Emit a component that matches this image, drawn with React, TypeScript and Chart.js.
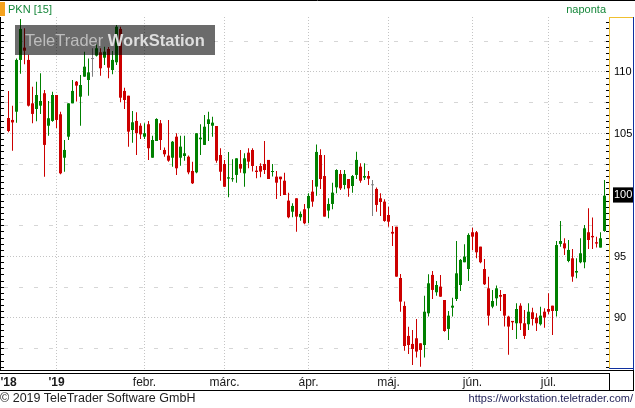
import React, { useEffect, useRef } from 'react';
import { Chart, registerables } from 'chart.js';

Chart.register(...registerables);
Chart.defaults.font.family = '"Liberation Sans", Arial, sans-serif';

// PKN daily candles, Dec 2018 – Jul 2019 (one entry per trading day)
const opens = [
  106.26, 106.1, 106.77, 110.98, 111.98, 110.98, 107.45, 106.99, 107.26, 108.27,
  105.63, 106.02, 108.13, 106.56, 103.03, 104.74, 107.45, 109.21, 107.99, 109.62,
  109.35, 111.05, 111.33, 111.6, 111.16, 111.87, 110.16, 110.79, 113.5, 108.46,
  108.07, 105.28, 106.02, 105.63, 104.74, 105.75, 103.03, 104.39, 105.83, 103.66,
  103.2, 103.03, 104.74, 103.03, 103.17, 103.11, 101.95, 101.84, 104.53, 104.07,
  105.77, 105.63, 105.61, 103.25, 102.52, 101.33, 101.28, 101.63, 102.52, 101.76,
  103.44, 103.66, 101.98, 102.36, 102.52, 102.85, 101.87, 101.49, 101.49, 101.16,
  99.54, 98.64, 99.73, 98.19, 98.84, 98.92, 100.27, 100.68, 103.25, 101.54,
  98.73, 99.27, 100.62, 101.71, 100.81, 101.3, 100.73, 101.63, 102.3, 101.41,
  101.54, 100.79, 100.49, 99.73, 99.46, 98.37, 97.0, 97.42, 93.25, 90.98,
  88.54, 87.89, 88.35, 87.94, 87.8, 90.38, 93.5, 92.09, 92.55, 91.46,
  89.11, 90.84, 91.54, 92.68, 94.53, 93.98, 96.97, 96.97, 95.8, 93.98,
  92.41, 90.92, 91.6, 91.87, 91.95, 90.11, 89.76, 89.57, 91.0, 89.57,
  89.49, 90.46, 90.03, 89.49, 90.51, 90.73, 91.0, 90.57, 96.02, 96.07,
  94.63, 94.85, 93.69, 94.53, 94.53, 96.97, 96.67, 96.16, 95.72, 97.07,
];
const highs = [
  108.46, 107.26, 111.1, 114.3, 113.55, 111.4, 108.8, 109.2, 109.9, 108.54,
  107.64, 108.4, 108.13, 106.77, 104.47, 107.45, 109.35, 109.27, 109.76, 111.65,
  111.1, 111.93, 112.25, 111.93, 112.06, 112.03, 111.71, 113.82, 113.68, 108.72,
  108.07, 106.83, 106.72, 105.83, 105.83, 106.02, 104.82, 106.24, 106.1, 103.85,
  106.1, 104.39, 105.02, 104.82, 104.82, 103.2, 102.71, 105.02, 105.75, 106.5,
  106.77, 106.37, 105.61, 103.8, 102.85, 103.5, 102.9, 102.98, 103.66, 103.39,
  103.8, 103.8, 102.36, 102.58, 104.39, 102.85, 102.52, 101.95, 101.49, 101.81,
  100.19, 99.33, 99.73, 98.65, 99.27, 100.14, 101.22, 104.1, 103.72, 103.25,
  99.73, 101.0, 102.09, 102.03, 102.03, 101.3, 101.63, 103.52, 102.58, 102.58,
  101.95, 101.22, 100.6, 100.14, 99.65, 99.05, 97.48, 97.42, 93.58, 91.33,
  89.29, 89.02, 89.92, 87.94, 91.81, 93.55, 93.82, 93.0, 93.5, 91.46,
  90.57, 91.65, 96.26, 94.8, 95.99, 96.88, 97.34, 97.07, 95.8, 94.8,
  93.36, 92.28, 92.63, 92.28, 91.95, 90.19, 89.76, 91.19, 91.19, 90.65,
  91.19, 90.84, 90.38, 90.92, 90.79, 92.0, 91.0, 96.26, 97.89, 96.48,
  96.34, 95.61, 94.85, 96.48, 97.56, 98.92, 98.16, 96.61, 96.97, 101.22,
];
const lows = [
  105.1, 103.6, 105.88, 109.86, 110.63, 107.2, 105.83, 106.0, 106.59, 101.49,
  104.82, 105.96, 105.45, 101.68, 101.89, 104.47, 107.45, 107.59, 105.63, 109.62,
  108.07, 109.62, 111.25, 109.7, 110.57, 109.49, 109.81, 110.57, 107.54, 106.99,
  103.93, 104.25, 103.25, 104.55, 104.55, 102.85, 103.03, 104.39, 103.66, 103.11,
  102.71, 102.3, 101.63, 102.38, 102.79, 101.68, 100.89, 101.76, 103.25, 104.07,
  104.39, 104.74, 102.63, 101.16, 100.67, 99.81, 101.08, 101.0, 101.8, 100.67,
  102.17, 101.9, 101.36, 101.44, 101.71, 101.3, 101.5, 99.67, 99.92, 100.0,
  98.11, 98.19, 97.02, 97.91, 97.62, 97.7, 99.05, 99.94, 100.49, 98.24,
  98.11, 98.84, 100.14, 100.41, 100.46, 99.86, 100.19, 101.3, 101.0, 101.22,
  100.81, 98.29, 98.64, 98.29, 97.83, 97.42, 95.85, 93.36, 90.51, 87.34,
  87.07, 86.18, 86.78, 86.04, 86.78, 90.11, 91.54, 91.81, 91.73, 88.89,
  88.21, 90.11, 91.38, 92.2, 94.53, 93.0, 95.5, 94.85, 94.45, 92.68,
  89.38, 90.79, 91.0, 90.57, 89.3, 87.0, 89.02, 88.29, 89.02, 88.29,
  89.02, 89.38, 88.94, 89.38, 89.21, 90.3, 88.62, 90.11, 95.8, 95.12,
  94.53, 92.95, 93.22, 94.45, 94.04, 95.61, 95.61, 95.72, 95.72, 97.02,
];
const closes = [
  105.2, 105.9, 110.98, 113.5, 111.73, 107.26, 106.59, 108.13, 107.64, 104.07,
  106.24, 108.13, 106.1, 101.76, 103.66, 107.45, 108.46, 108.89, 108.94, 110.43,
  109.97, 111.05, 111.93, 110.3, 111.65, 110.35, 110.98, 113.68, 107.91, 107.72,
  105.15, 105.91, 105.02, 104.93, 105.02, 103.8, 104.47, 106.18, 104.47, 103.31,
  102.79, 104.33, 102.17, 103.93, 103.39, 101.84, 100.95, 105.02, 104.66, 105.55,
  106.15, 105.88, 102.79, 101.89, 100.67, 101.44, 101.36, 102.98, 102.14, 102.98,
  102.71, 102.36, 101.87, 101.9, 102.03, 101.3, 101.95, 101.0, 101.28, 100.0,
  98.19, 99.11, 98.24, 98.46, 97.7, 99.92, 99.46, 103.5, 101.3, 98.24,
  99.27, 100.19, 102.03, 100.54, 101.71, 100.54, 101.54, 102.85, 101.16, 101.54,
  101.33, 100.79, 99.19, 99.43, 97.89, 97.83, 96.86, 93.36, 91.33, 87.72,
  87.8, 87.48, 87.27, 87.4, 90.51, 92.82, 92.28, 92.68, 91.73, 88.94,
  90.19, 91.0, 93.63, 94.72, 94.99, 96.75, 96.61, 95.34, 94.53, 92.74,
  90.19, 91.38, 92.41, 91.73, 90.19, 89.3, 89.65, 90.73, 89.57, 88.54,
  90.51, 89.92, 89.57, 90.19, 90.03, 90.51, 90.57, 95.93, 96.26, 95.66,
  95.53, 93.36, 93.82, 95.26, 97.29, 96.34, 96.56, 96.05, 96.48, 99.94,
];

// x-axis: index of the first trading day of each labelled period
const periodStartIndex = [0, 12, 34, 54, 75, 95, 116, 135];
const periodLabels = ["'18", "'19", 'febr.', 'márc.', 'ápr.', 'máj.', 'jún.', 'júl.'];
const yearLabelCount = 2; // first two labels are years (bold)

// y-axis
const yLabelValues = [90, 95, 100, 105, 110];
const yMinorStep = 0.5;
const yMin = 85.77;
const yMax = 114.47;
const lastPriceLabel = 100;

const UP = '#008000';
const DOWN = '#cc0000';
const FLAT = '#808080';

const candleColors = closes.map((c, i) => (c > opens[i] ? UP : c < opens[i] ? DOWN : FLAT));
const wickData = closes.map((_, i) => ({ x: i, y: [lows[i], highs[i]] }));
const bodyData = closes.map((c, i) => ({ x: i, y: [opens[i], c] }));

const yTickValues: number[] = [];
for (let v = Math.ceil(yMin / yMinorStep) * yMinorStep; v <= yMax; v += yMinorStep) yTickValues.push(v);

const X_MIN = -1.125;
const X_MAX = 149.375;

const framePlugin = {
  id: 'frame',
  afterDraw(chart: any) {
    const { ctx, chartArea: a, width } = chart;
    const axL = a.right + 3; // 609
    const axR = axL + 24; // 633
    const top = a.top;
    const bot = a.bottom;
    ctx.save();
    ctx.lineWidth = 1;
    const line = (x1: number, y1: number, x2: number, y2: number, c: string) => {
      ctx.strokeStyle = c;
      ctx.beginPath();
      ctx.moveTo(x1, y1);
      ctx.lineTo(x2, y2);
      ctx.stroke();
    };
    line(0, 0.5, width, 0.5, '#000');
    line(0.5, top, 0.5, bot, '#000');
    line(axL + 0.5, top, axL + 0.5, bot - 1, '#f0c030');
    line(axL, top + 0.5, axR, top + 0.5, '#f0c030');
    line(axR + 0.5, top, axR + 0.5, bot, '#1030a0');
    line(axL, bot - 1.5, axR + 1, bot - 1.5, '#1030a0');
    line(0, bot + 0.5, axR + 1, bot + 0.5, '#000');
    line(0, bot + 3.5, axL + 1, bot + 3.5, '#000');
    line(axL + 0.5, bot + 3, axL + 0.5, bot + 20, '#000');
    line(axR + 0.5, bot, axR + 0.5, bot + 20, '#000');
    line(0, bot + 20.5, axR + 1, bot + 20.5, '#000');
    ctx.restore();
  },
};

const setYTicks = (s: any) => {
  s.ticks = yTickValues.map((v) => ({ value: v }));
};

export default function App() {
  const ref = useRef<HTMLCanvasElement>(null);
  useEffect(() => {
    document.body.style.margin = '0';
    const chart = new Chart(ref.current as HTMLCanvasElement, {
      type: 'bar',
      data: {
        datasets: [
          {
            label: 'body',
            data: bodyData as any,
            backgroundColor: candleColors,
            barThickness: 3,
            grouped: false,
            minBarLength: 1,
            inflateAmount: 0,
            borderWidth: 0,
            order: 1,
            xAxisID: 'x',
            yAxisID: 'y',
          } as any,
          {
            label: 'wick',
            data: wickData as any,
            backgroundColor: candleColors,
            barThickness: 1,
            grouped: false,
            inflateAmount: 0,
            borderWidth: 0,
            order: 2,
            xAxisID: 'x',
            yAxisID: 'y',
          } as any,
        ],
      },
      options: {
        responsive: false,
        animation: false,
        devicePixelRatio: 1,
        layout: { padding: { left: 0, top: 17, right: 2, bottom: 18 } },
        plugins: { legend: { display: false }, tooltip: { enabled: false } },
        scales: {
          x: {
            type: 'linear',
            position: 'bottom',
            min: X_MIN,
            max: X_MAX,
            bounds: 'data',
            offset: false,
            afterBuildTicks: (s: any) => {
              s.ticks = periodStartIndex.map((v) => ({ value: v }));
            },
            afterFit: (s: any) => {
              s.height = 20;
              s.paddingLeft = 0;
              s.paddingRight = 0;
            },
            ticks: {
              autoSkip: false,
              maxRotation: 0,
              minRotation: 0,
              padding: 5,
              color: '#1a1a1a',
              font: (c: any) => ({ size: 12, weight: c.index < yearLabelCount ? 'bold' : 'normal' }),
              callback: (_v: any, i: number) => periodLabels[i],
            },
            grid: {
              offset: false,
              drawTicks: false,
              color: (c: any) => (c.index === 0 ? 'rgba(0,0,0,0)' : '#c4c4c4'),
            },
            border: { display: false, dash: [1, 2] },
          } as any,
          y: {
            type: 'linear',
            position: 'right',
            min: yMin,
            max: yMax,
            bounds: 'data',
            afterBuildTicks: setYTicks,
            afterFit: (s: any) => {
              s.width = 27;
              s.paddingTop = 0;
              s.paddingBottom = 0;
            },
            ticks: {
              autoSkip: false,
              padding: 5,
              font: { size: 11 },
              color: (c: any) => (c.tick && c.tick.value === lastPriceLabel ? '#ffffff' : '#000000'),
              showLabelBackdrop: (c: any) => !!(c.tick && c.tick.value === lastPriceLabel),
              backdropColor: '#000000',
              backdropPadding: { x: 1, y: 1 },
              callback: (v: any) => (yLabelValues.includes(v) ? String(v) : ''),
            },
            grid: {
              drawTicks: true,
              tickLength: 3,
              tickColor: '#000000',
              color: (c: any) => {
                const v = c.tick ? c.tick.value : NaN;
                if (v % 5 === 0) return '#c4c4c4';
                if (v % 2.5 === 0) return '#d6d6d6';
                return 'rgba(0,0,0,0)';
              },
            },
            border: {
              display: false,
              dash: (c: any) => (c.tick && c.tick.value % 5 === 0 ? [1, 2] : [4, 11]),
            },
          } as any,
          yLeft: {
            type: 'linear',
            position: 'left',
            min: yMin,
            max: yMax,
            bounds: 'data',
            afterBuildTicks: setYTicks,
            afterFit: (s: any) => {
              s.width = 4;
              s.paddingTop = 0;
              s.paddingBottom = 0;
            },
            ticks: { display: false, autoSkip: false },
            grid: { drawOnChartArea: false, drawTicks: true, tickLength: 4, tickColor: '#000000' },
            border: { display: false },
          } as any,
        },
      },
      plugins: [framePlugin],
    });
    return () => chart.destroy();
  }, []);

  const font = '"Liberation Sans", Arial, sans-serif';
  return (
    <div
      style={{
        position: 'fixed',
        left: 0,
        top: 0,
        width: 635,
        height: 408,
        background: '#ffffff',
        overflow: 'hidden',
        fontFamily: font,
      }}
    >
      <canvas ref={ref} width={635} height={408} style={{ position: 'absolute', left: 0, top: 0 }} />
      <div style={{ position: 'absolute', left: 0, top: 2, width: 5, height: 14, background: '#f4a21e' }} />
      <div style={{ position: 'absolute', left: 8, top: 2, fontSize: 11, lineHeight: '14px', color: '#15873a' }}>
        PKN [15]
      </div>
      <div style={{ position: 'absolute', right: 29, top: 2, fontSize: 11, lineHeight: '14px', color: '#15873a' }}>
        naponta
      </div>
      <div
        style={{
          position: 'absolute',
          left: 15,
          top: 25,
          width: 200,
          height: 30,
          boxSizing: 'border-box',
          paddingLeft: 10,
          background: 'rgba(0,0,0,0.58)',
          fontSize: 16.5,
          lineHeight: '30px',
          whiteSpace: 'nowrap',
        }}
      >
        <span style={{ color: '#bdbdbd' }}>TeleTrader </span>
        <span style={{ color: '#dedede', fontWeight: 'bold' }}>WorkStation</span>
      </div>
      <div style={{ position: 'absolute', left: 0, top: 391, fontSize: 12.5, lineHeight: '15px', color: '#222222' }}>
        © 2019 TeleTrader Software GmbH
      </div>
      <div style={{ position: 'absolute', right: 2, top: 391, fontSize: 11, lineHeight: '15px', color: '#1e1e55' }}>
        https://workstation.teletrader.com/
      </div>
    </div>
  );
}
